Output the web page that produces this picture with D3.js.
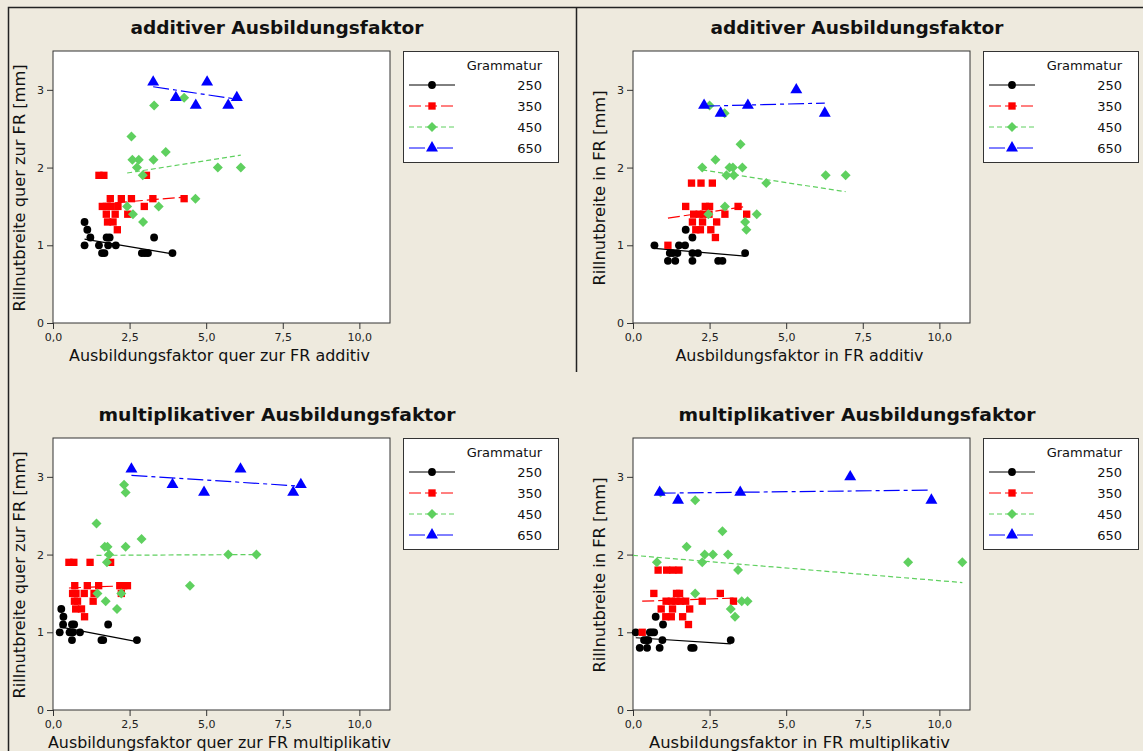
<!DOCTYPE html>
<meta charset='utf-8'>
<style>
    html, body {
        margin: 0;
        background: #eeeade;
    }

    svg text {
        font-family: 'DejaVu Sans', Verdana, sans-serif;
        fill: #111;
    }

    .axis path, .axis line {
        stroke: #333;
    }

    .axis text {
        font-size: 11px;
        fill: #222;
    }
</style>
<title>Rillnutbreite vs. Ausbildungsfaktor</title>
<body>
<script src='https://d3js.org/d3.v7.min.js'></script>
<script>

	// categories / ticks
	let grammatur = ['250', '350', '450', '650'];
	let xTicks = [0, 2.5, 5, 7.5, 10];
	let xTickLabels = ['0,0', '2,5', '5,0', '7,5', '10,0'];
	let yTicks = [0, 1, 2, 3];

	// quer zur FR, additiv  [x, y]
	let qAdd250 = [[1.03, 1.3], [1.12, 1.2], [1.22, 1.1], [1.03, 1.0], [1.5, 1.0], [1.6, 0.9], [1.68, 0.9], [1.75, 1.1],
		[1.85, 1.1], [1.8, 1.0], [2.05, 1.0], [2.9, 0.9], [3.0, 0.9], [3.1, 0.9], [3.3, 1.1], [3.9, 0.9]];
	let qAdd350 = [[1.5, 1.9], [1.66, 1.9], [3.05, 1.9], [1.87, 1.6], [2.23, 1.6], [2.56, 1.6], [3.26, 1.6], [4.28, 1.6],
		[1.61, 1.5], [1.74, 1.5], [1.9, 1.5], [2.12, 1.5], [2.98, 1.5], [1.74, 1.4], [2.03, 1.4], [2.44, 1.4],
		[1.78, 1.3], [1.96, 1.3], [2.1, 1.2]];
	let qAdd450 = [[3.3, 2.8], [4.28, 2.9], [2.56, 2.4], [3.68, 2.2], [2.59, 2.1], [2.8, 2.1], [3.28, 2.1], [2.74, 2.0],
		[2.93, 1.9], [5.38, 2.0], [6.13, 2.0], [4.65, 1.6], [2.42, 1.5], [3.45, 1.5], [2.61, 1.4], [2.94, 1.3]];
	let qAdd650 = [[3.27, 3.1], [5.03, 3.1], [4.01, 2.9], [4.66, 2.8], [5.72, 2.8], [6.0, 2.9]];
	// fitted lines [x1, y1, x2, y2]
	let fitQAdd = [[1.03, 1.08, 3.9, 0.89], [1.5, 1.53, 4.28, 1.62], [2.42, 1.93, 6.13, 2.16], [3.27, 3.04, 6.0, 2.88]];

	// in FR, additiv
	let iAdd250 = [[0.7, 1.0], [1.5, 1.0], [1.7, 1.0], [1.72, 1.2], [1.94, 1.1], [1.2, 0.9], [1.3, 0.9], [1.45, 0.9],
		[1.94, 0.9], [2.12, 0.9], [3.66, 0.9], [1.14, 0.8], [1.38, 0.8], [1.94, 0.8], [2.78, 0.8], [2.92, 0.8]];
	let iAdd350 = [[1.14, 1.0], [1.72, 1.5], [1.91, 1.8], [2.22, 1.8], [2.59, 1.8], [2.36, 1.5], [2.5, 1.5], [3.43, 1.5],
		[1.98, 1.4], [2.16, 1.4], [2.3, 1.4], [2.48, 1.4], [3.0, 1.4], [3.71, 1.4], [1.94, 1.3], [2.27, 1.3],
		[2.73, 1.3], [2.05, 1.2], [2.2, 1.2], [2.54, 1.2], [2.69, 1.1]];
	let iAdd450 = [[2.5, 2.8], [2.99, 2.7], [3.51, 2.3], [2.69, 2.1], [2.26, 2.0], [3.15, 2.0], [3.26, 2.0], [3.57, 2.0],
		[3.05, 1.9], [3.29, 1.9], [4.35, 1.8], [6.29, 1.9], [6.94, 1.9], [3.0, 1.5], [2.46, 1.4], [4.04, 1.4],
		[3.66, 1.3], [3.7, 1.2]];
	let iAdd650 = [[2.32, 2.8], [2.86, 2.7], [3.75, 2.8], [5.33, 3.0], [6.26, 2.7]];
	let fitIAdd = [[0.7, 0.96, 3.66, 0.86], [1.14, 1.35, 3.71, 1.5], [2.26, 1.97, 6.94, 1.69], [2.32, 2.79, 6.26, 2.83]];

	// quer zur FR, multiplikativ
	let qMul250 = [[0.27, 1.3], [0.34, 1.2], [0.33, 1.1], [0.22, 1.0], [0.62, 1.1], [0.69, 1.1], [0.54, 1.0], [0.65, 1.0],
		[0.88, 1.0], [0.62, 0.9], [1.58, 0.9], [1.64, 0.9], [1.8, 1.1], [2.74, 0.9]];
	let qMul350 = [[0.52, 1.9], [0.68, 1.9], [1.21, 1.9], [1.88, 1.9], [0.71, 1.6], [1.12, 1.6], [1.49, 1.6], [2.18, 1.6],
		[2.31, 1.6], [2.43, 1.6], [0.64, 1.5], [0.75, 1.5], [1.02, 1.5], [1.34, 1.5], [2.23, 1.5], [0.7, 1.4],
		[0.8, 1.4], [1.31, 1.4], [0.74, 1.3], [0.93, 1.3], [1.03, 1.2]];
	let qMul450 = [[2.32, 2.9], [2.37, 2.8], [1.42, 2.4], [2.89, 2.2], [1.69, 2.1], [1.78, 2.1], [2.37, 2.1], [1.83, 2.0],
		[1.76, 1.9], [5.72, 2.0], [6.64, 2.0], [4.47, 1.6], [1.45, 1.5], [2.23, 1.5], [1.72, 1.4], [2.09, 1.3]];
	let qMul650 = [[2.56, 3.1], [3.9, 2.9], [4.93, 2.8], [6.12, 3.1], [7.84, 2.8], [8.09, 2.9]];
	let fitQMul = [[0.22, 1.07, 2.74, 0.88], [0.52, 1.57, 2.43, 1.6], [1.42, 1.99, 6.64, 2.0], [2.56, 3.02, 8.09, 2.88]];

	// in FR, multiplikativ
	let iMul250 = [[0.09, 1.0], [0.55, 1.0], [0.62, 1.0], [0.69, 1.0], [0.74, 1.2], [0.98, 1.1], [0.36, 0.9], [0.45, 0.9],
		[0.5, 0.9], [0.96, 0.9], [3.19, 0.9], [0.22, 0.8], [0.46, 0.8], [0.87, 0.8], [1.9, 0.8], [1.98, 0.8]];
	let iMul350 = [[0.3, 1.0], [0.82, 1.8], [1.1, 1.8], [1.3, 1.8], [1.5, 1.8], [0.68, 1.5], [1.42, 1.5], [1.52, 1.5],
		[2.85, 1.5], [1.08, 1.4], [1.25, 1.4], [1.4, 1.4], [1.55, 1.4], [1.72, 1.4], [2.26, 1.4], [3.28, 1.4],
		[0.92, 1.3], [1.29, 1.3], [1.85, 1.3], [1.07, 1.2], [1.25, 1.2], [1.62, 1.2], [1.81, 1.1]];
	let iMul450 = [[0.9, 2.8], [2.03, 2.7], [2.92, 2.3], [1.75, 2.1], [2.34, 2.0], [2.61, 2.0], [3.1, 2.0], [0.78, 1.9],
		[2.26, 1.9], [3.43, 1.8], [8.98, 1.9], [10.75, 1.9], [2.03, 1.5], [3.55, 1.4], [3.74, 1.4], [3.19, 1.3],
		[3.33, 1.2]];
	let iMul650 = [[0.87, 2.8], [1.47, 2.7], [3.5, 2.8], [7.09, 3.0], [9.74, 2.7]];
	let fitIMul = [[0.09, 0.93, 3.19, 0.85], [0.3, 1.4, 3.28, 1.44], [0, 1.99, 10.75, 1.64], [0.87, 2.79, 9.74, 2.83]];

	let panels = [
		{title: 'additiver Ausbildungsfaktor', xlab: 'Ausbildungsfaktor quer zur FR additiv', ylab: 'Rillnutbreite quer zur FR [mm]',
			series: [qAdd250, qAdd350, qAdd450, qAdd650], fits: fitQAdd, dx: 0, dy: 0},
		{title: 'additiver Ausbildungsfaktor', xlab: 'Ausbildungsfaktor in FR additiv', ylab: 'Rillnutbreite in FR [mm]',
			series: [iAdd250, iAdd350, iAdd450, iAdd650], fits: fitIAdd, dx: 580, dy: 0},
		{title: 'multiplikativer Ausbildungsfaktor', xlab: 'Ausbildungsfaktor quer zur FR multiplikativ', ylab: 'Rillnutbreite quer zur FR [mm]',
			series: [qMul250, qMul350, qMul450, qMul650], fits: fitQMul, dx: 0, dy: 387},
		{title: 'multiplikativer Ausbildungsfaktor', xlab: 'Ausbildungsfaktor in FR multiplikativ', ylab: 'Rillnutbreite in FR [mm]',
			series: [iMul250, iMul350, iMul450, iMul650], fits: fitIMul, dx: 580, dy: 387}
	];

	let colors = ['#000000', '#ff0000', '#5fd05f', '#0000ff'];
	let dashes = [null, '12,4', '5,3', '16,4,4,4'];
	let shapes = [d3.symbolCircle, d3.symbolSquare, d3.symbolSquare, d3.symbolTriangle];
	let sizes = [48, 54, 50, 62];
	let rotate = [0, 0, 45, 0];

	let plot = {left: 53, top: 51, width: 337, height: 272};

	let svg = d3.select('body').append('svg')
		.attr('width', 1143)
		.attr('height', 751);

	// frames
	svg.append('path')
		.attr('d', 'M8.5,751 V7.5 H1143 M576.5,7.5 V372')
		.attr('fill', 'none')
		.attr('stroke', '#222')
		.attr('stroke-width', 1.5);

	let x = d3.scaleLinear().domain([0, 11]).range([0, plot.width]);
	let y = d3.scaleLinear().domain([0, 3.5]).range([plot.height, 0]);

	panels.forEach(function (p) {
		let g = svg.append('g')
			.attr('transform', 'translate(' + (plot.left + p.dx) + ',' + (plot.top + p.dy) + ')');

		g.append('rect')
			.attr('width', plot.width)
			.attr('height', plot.height)
			.attr('fill', '#fff')
			.attr('stroke', '#333');

		g.append('text')
			.attr('x', 224)
			.attr('y', -17)
			.attr('text-anchor', 'middle')
			.attr('font-size', '17px')
			.attr('font-weight', 'bold')
			.attr('textLength', p.title.length > 30 ? 357 : 293)
			.attr('lengthAdjust', 'spacingAndGlyphs')
			.text(p.title);

		g.append('g')
			.attr('class', 'axis')
			.attr('transform', 'translate(0,' + plot.height + ')')
			.call(d3.axisBottom(x).tickValues(xTicks).tickSize(6).tickPadding(4)
				.tickFormat(function (d, i) { return xTickLabels[i]; }))
			.call(function (a) { a.select('.domain').remove(); });

		g.append('g')
			.attr('class', 'axis')
			.call(d3.axisLeft(y).tickValues(yTicks).tickSize(6).tickPadding(3).tickFormat(d3.format('d')))
			.call(function (a) { a.select('.domain').remove(); });

		g.append('text')
			.attr('x', plot.width / 2 - 2)
			.attr('y', plot.height + 38)
			.attr('text-anchor', 'middle')
			.attr('font-size', '15px')
			.attr('textLength', {37: 301, 31: 248, 43: 343}[p.xlab.length] || 291)
			.attr('lengthAdjust', 'spacingAndGlyphs')
			.text(p.xlab);

		g.append('text')
			.attr('transform', 'translate(-28,' + (plot.height / 2 + 1) + ') rotate(-90)')
			.attr('text-anchor', 'middle')
			.attr('font-size', '15px')
			.attr('textLength', p.ylab.length > 26 ? 247 : 195)
			.attr('lengthAdjust', 'spacingAndGlyphs')
			.text(p.ylab);

		let marks = g.append('g');

		p.series.forEach(function (s, k) {
			let f = p.fits[k];
			marks.append('line')
				.attr('x1', x(f[0])).attr('y1', y(f[1]))
				.attr('x2', x(f[2])).attr('y2', y(f[3]))
				.attr('stroke', colors[k])
				.attr('stroke-width', 1.2)
				.attr('stroke-dasharray', dashes[k]);

			marks.selectAll('.m' + k)
				.data(s)
				.enter().append('path')
				.attr('class', 'm' + k)
				.attr('d', d3.symbol().type(shapes[k]).size(sizes[k]))
				.attr('transform', function (d) {
					return 'translate(' + x(d[0]) + ',' + y(d[1]) + ') rotate(' + rotate[k] + ')';
				})
				.attr('fill', colors[k]);
		});

		// legend
		let lg = g.append('g').attr('transform', 'translate(350,0)');
		lg.append('rect')
			.attr('x', 0.5).attr('y', 0.5)
			.attr('width', 155).attr('height', 111)
			.attr('fill', '#fff')
			.attr('stroke', '#333');
		lg.append('text')
			.attr('x', 139).attr('y', 19)
			.attr('text-anchor', 'end')
			.attr('font-size', '13px')
			.text('Grammatur');

		grammatur.forEach(function (name, k) {
			let cy = 34 + k * 21;
			lg.append('line')
				.attr('x1', 6).attr('x2', 52)
				.attr('y1', cy).attr('y2', cy)
				.attr('stroke', colors[k])
				.attr('stroke-dasharray', dashes[k]);
			lg.append('path')
				.attr('d', d3.symbol().type(shapes[k]).size(sizes[k]))
				.attr('transform', 'translate(29,' + cy + ') rotate(' + rotate[k] + ')')
				.attr('fill', colors[k]);
			lg.append('text')
				.attr('x', 139).attr('y', cy + 5)
				.attr('text-anchor', 'end')
				.attr('font-size', '13px')
				.text(name);
		});
	});

</script>
</body>
